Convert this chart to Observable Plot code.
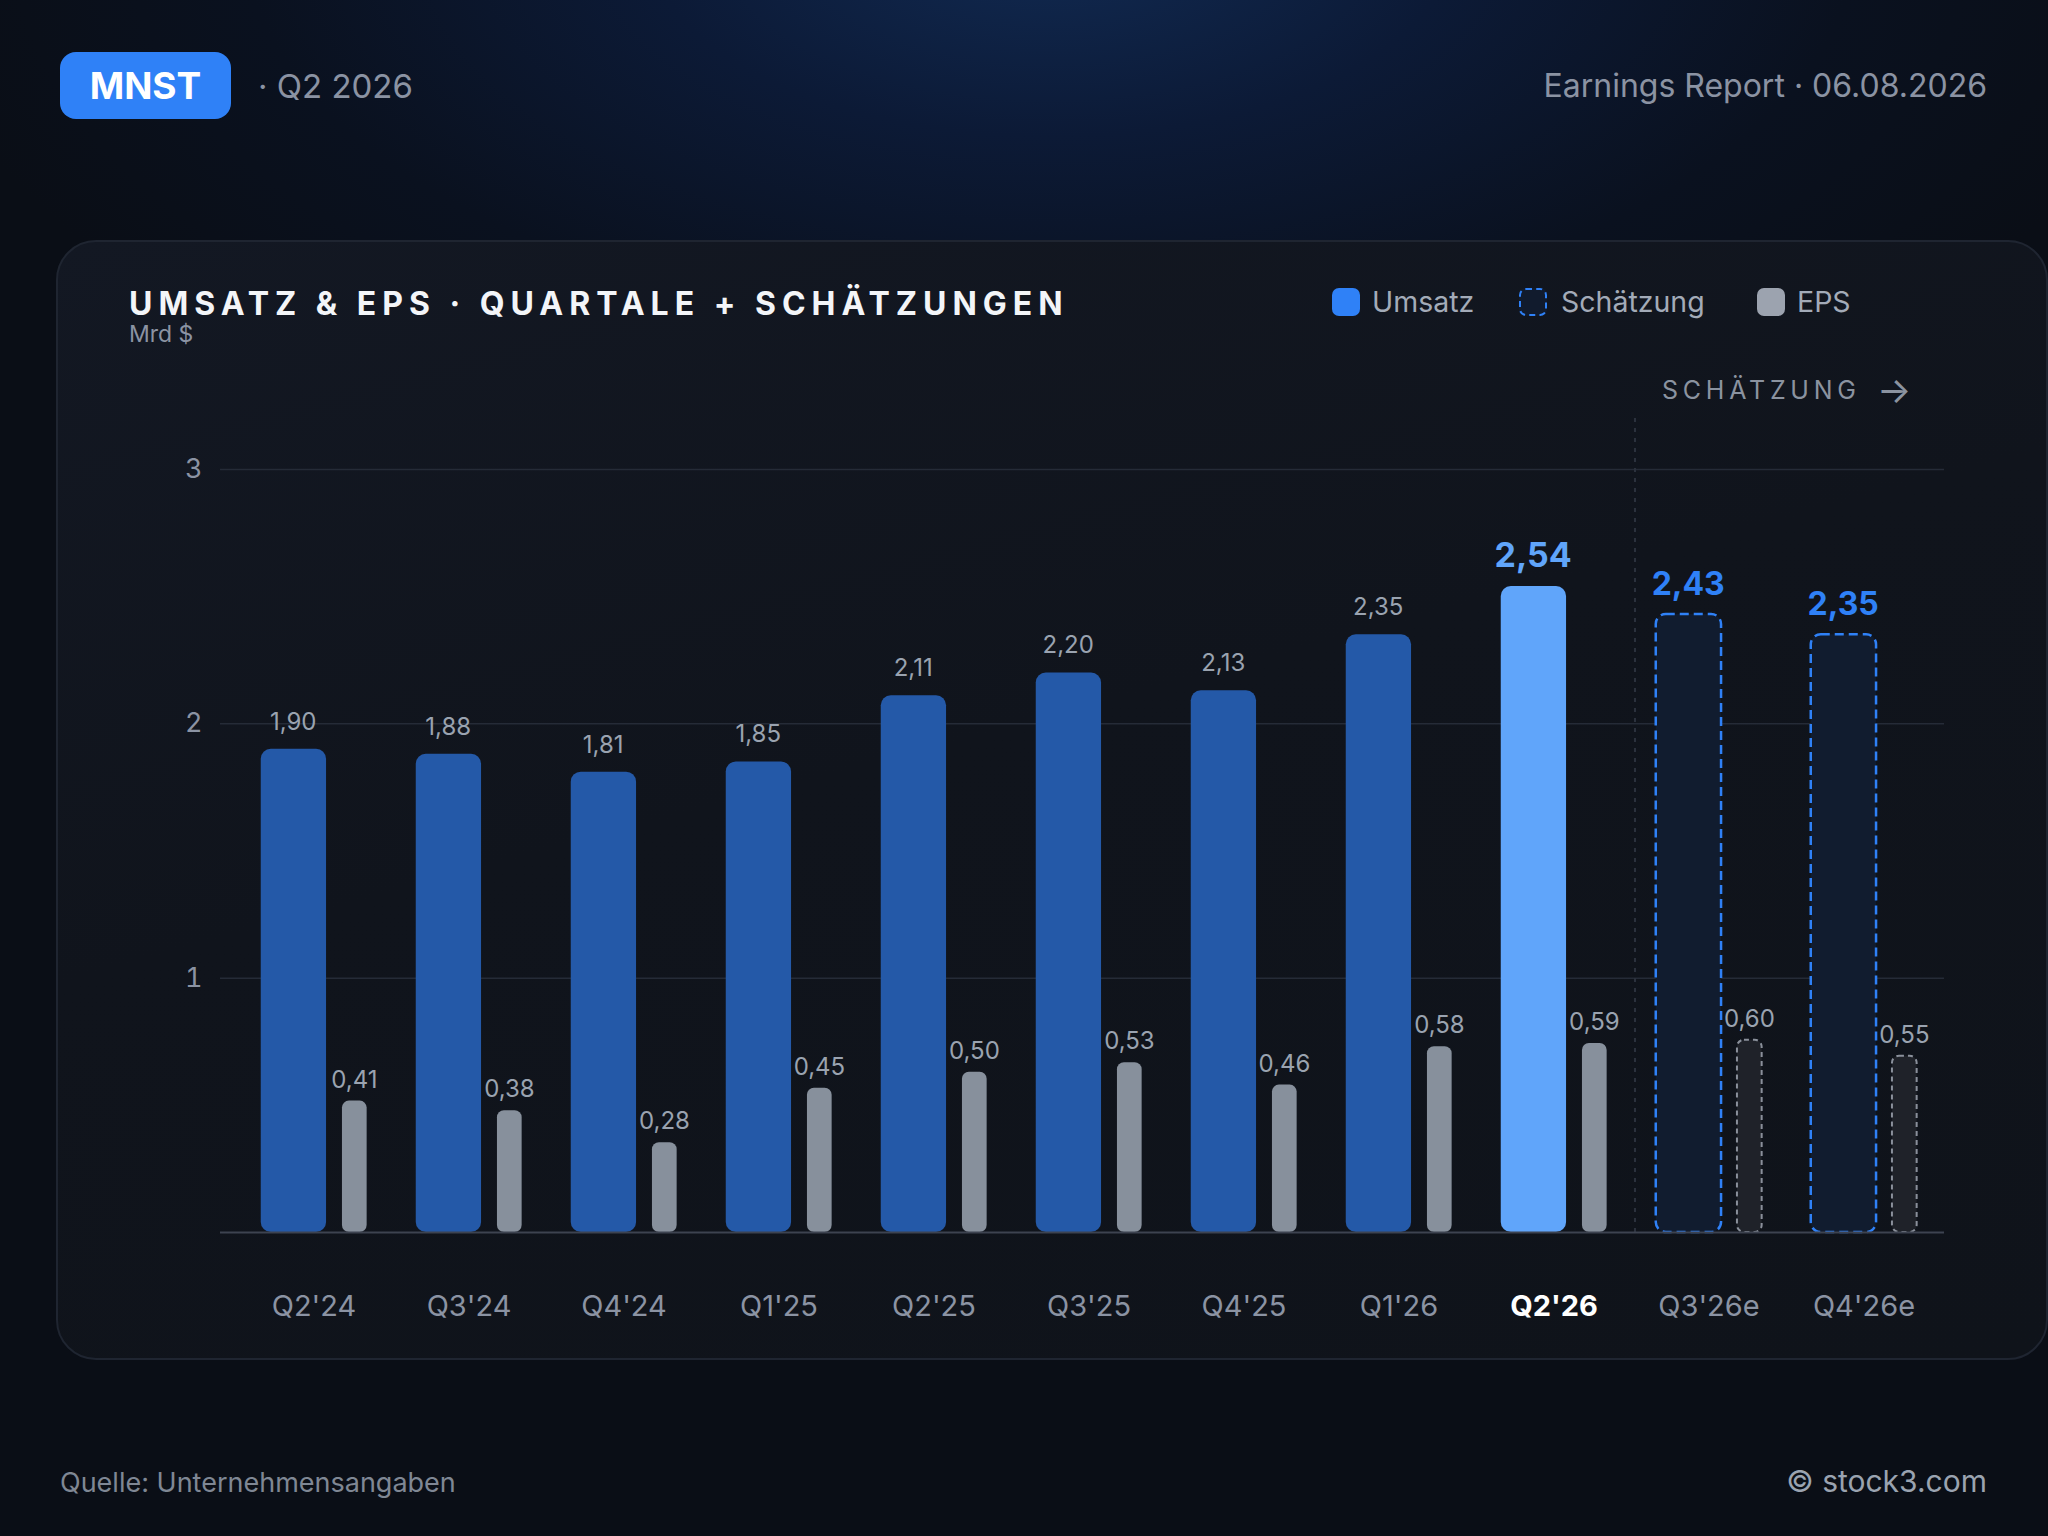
<!DOCTYPE html>
<html><head><meta charset="utf-8">
<script src="https://cdn.jsdelivr.net/npm/d3@7"></script>
<script src="https://cdn.jsdelivr.net/npm/@observablehq/plot@0.6"></script>
<style>
html,body{margin:0;padding:0;background:#0a0e16;}
#page{position:relative;width:2048px;height:1536px;overflow:hidden;font-family:Inter,"Noto Sans",sans-serif;
 background: radial-gradient(ellipse 1150px 560px at 1050px -60px, #112a52 0%, #0c1a36 35%, #0a111f 70%, #0a0e16 100%);}
.t{position:absolute;line-height:1;white-space:nowrap;}
#badge{position:absolute;left:60px;top:52px;width:171px;height:67px;border-radius:16px;background:#2f81f7;color:#fff;font-weight:700;font-size:37px;line-height:67px;text-align:center;}
#card{position:absolute;left:56px;top:240px;width:1988px;height:1116px;border-radius:40px;background:linear-gradient(165deg,#131823 0%,#10141c 45%,#0f131a 100%);border:2px solid #1f2531;}
.sw{position:absolute;top:288px;width:28px;height:28px;border-radius:7px;box-sizing:border-box;}
#chart{position:absolute;left:0;top:400px;}
</style></head>
<body><div id="page">
<div id="badge">MNST</div>
<div class="t" style="left:258px;top:69.5px;font-size:33px;color:#8b93a3;">· Q2 2026</div>
<div class="t" style="right:61px;top:70.4px;font-size:32px;color:#8b93a3;">Earnings Report · 06.08.2026</div>
<div id="card"></div>
<div class="t" style="left:129px;top:288.4px;font-size:32px;font-weight:700;color:#f3f5f8;letter-spacing:0.187em;">UMSATZ &amp; EPS · QUARTALE + SCHÄTZUNGEN</div>
<div class="t" style="left:129px;top:323px;font-size:23px;color:#8b93a3;">Mrd $</div>
<div class="sw" style="left:1332px;background:#2f81f7;"></div>
<div class="t" style="left:1372px;top:287.5px;font-size:28.5px;color:#a3abb8;">Umsatz</div>
<div class="sw" style="left:1519px;background:#111b2d;border:2px dashed #2f81f7;"></div>
<div class="t" style="left:1561px;top:287.5px;font-size:28.5px;color:#a3abb8;">Schätzung</div>
<div class="sw" style="left:1757px;background:#9ca3af;"></div>
<div class="t" style="left:1797px;top:287.5px;font-size:28.5px;color:#a3abb8;">EPS</div>
<div class="t" style="left:1662px;top:378.4px;font-size:25px;color:#8b93a0;letter-spacing:0.19em;">SCHÄTZUNG</div>
<div class="t" style="left:1877px;top:372px;font-size:36px;color:#8b93a0;">→</div>
<div id="chart"></div>
<div class="t" style="left:60px;top:1468.7px;font-size:27px;color:#7f8794;">Quelle: Unternehmensangaben</div>
<div class="t" style="right:61px;top:1466px;font-size:30px;color:#9aa3b0;">© stock3.com</div>
</div>
<script>
const quarters = ["Q2'24","Q3'24","Q4'24","Q1'25","Q2'25","Q3'25","Q4'25","Q1'26","Q2'26","Q3'26e","Q4'26e"];
const revenue  = [1.90, 1.88, 1.81, 1.85, 2.11, 2.20, 2.13, 2.35, 2.54, 2.43, 2.35];
const eps      = [0.41, 0.38, 0.28, 0.45, 0.50, 0.53, 0.46, 0.58, 0.59, 0.60, 0.55];
const status   = ["actual","actual","actual","actual","actual","actual","actual","actual","current","estimate","estimate"];
const yTicks   = [1, 2, 3];
const EPS_K = 1.26; // EPS drawn on its own (scaled) axis

const data = quarters.map((q, i) => ({q, rev: revenue[i], eps: eps[i], status: status[i]}));
const actual = data.filter(d => d.status === "actual");
const current = data.filter(d => d.status === "current");
const est = data.filter(d => d.status === "estimate");
const real = data.filter(d => d.status !== "estimate");
const fmt = v => v.toFixed(2).replace(".", ",");
const firstEst = quarters[status.indexOf("estimate")];

const revInset = {insetLeft: 24.75, insetRight: 64.95};
const epsInset = {insetLeft: 105.95, insetRight: 24.35};

const chart = Plot.plot({
  width: 2048, height: 940,
  marginLeft: 220, marginRight: 104, marginTop: 69, marginBottom: 108,
  x: {domain: quarters, padding: 0, insetLeft: 13.4, axis: null},
  y: {domain: [0, 3], axis: null},
  style: {background: "transparent", fontFamily: "Inter, 'Noto Sans', sans-serif", overflow: "visible"},
  marks: [
    Plot.gridY(yTicks, {stroke: "#252b37", strokeOpacity: 1, strokeWidth: 1.5}),
    Plot.axisY(yTicks, {tickSize: 0, tickPadding: 18, fontSize: 27, color: "#8b93a3", label: null, tickFormat: d => String(d)}),
    Plot.ruleX([firstEst], {y1: 0, y2: 3.22, dx: -74, stroke: "#2b313d", strokeWidth: 2, strokeDasharray: "4,6"}),
    Plot.barY(actual, {x: "q", y: "rev", fill: "#2459a8", rx: 10, ...revInset}),
    Plot.barY(current, {x: "q", y: "rev", fill: "#60a5fa", rx: 10, ...revInset}),
    Plot.barY(est, {x: "q", y: "rev", fill: "#111c2f", stroke: "#2f81f7", strokeWidth: 2.5, strokeDasharray: "9,5", rx: 10, ...revInset}),
    Plot.barY(real, {x: "q", y: d => d.eps * EPS_K, fill: "#87909c", rx: 7, ...epsInset}),
    Plot.barY(est, {x: "q", y: d => d.eps * EPS_K, fill: "#1f2229", stroke: "#8a909b", strokeWidth: 2, strokeDasharray: "5,4", rx: 7, ...epsInset}),
    Plot.ruleY([0], {stroke: "#3d4350", strokeWidth: 2}),
    Plot.text(actual, {x: "q", y: "rev", text: d => fmt(d.rev), dx: -20.8, dy: -19.5, lineAnchor: "bottom", fontSize: 24, fill: "#9aa3b0"}),
    Plot.text(current, {x: "q", y: "rev", text: d => fmt(d.rev), dx: -20.8, dy: -19.5, lineAnchor: "bottom", fontSize: 34, fontWeight: 700, fill: "#60a5fa"}),
    Plot.text(est, {x: "q", y: "rev", text: d => fmt(d.rev), dx: -20.8, dy: -19.5, lineAnchor: "bottom", fontSize: 32, fontWeight: 700, fill: "#2f81f7"}),
    Plot.text(data, {x: "q", y: d => d.eps * EPS_K, text: d => fmt(d.eps), dx: 40.4, dy: -13.5, lineAnchor: "bottom", fontSize: 24, fill: "#9aa3b0"}),
    Plot.text(data.filter(d => d.status !== "current"), {x: "q", text: "q", frameAnchor: "bottom", lineAnchor: "bottom", dy: 83, fontSize: 29, fill: "#8b93a3"}),
    Plot.text(current, {x: "q", text: "q", frameAnchor: "bottom", lineAnchor: "bottom", dy: 83, fontSize: 29, fontWeight: 700, fill: "#ffffff"})
  ]
});
document.getElementById("chart").appendChild(chart);
</script>
</body></html>
